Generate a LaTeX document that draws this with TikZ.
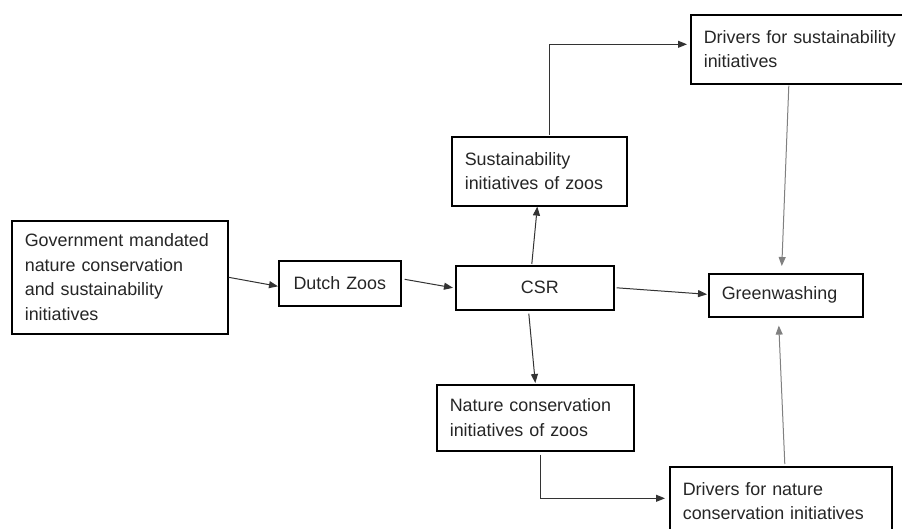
\documentclass[tikz,border=0pt]{standalone}
\usepackage{fontspec}
\setmainfont{Liberation Sans}
\usetikzlibrary{arrows.meta,calc}
\definecolor{txt}{HTML}{262626}
\definecolor{lnk}{HTML}{333333}
\definecolor{glnk}{HTML}{808080}
\begin{document}
\begin{tikzpicture}[x=1pt,y=-1pt,
  box/.style={draw=black, line width=1.6pt, anchor=north west, inner xsep=13pt, inner ysep=0pt,
    align=left, font=\fontsize{17.9}{24.5}\selectfont, text=txt},
  cbox/.style={box, align=center},
  link/.style={draw=lnk, line width=1pt, -{Triangle[length=9pt,width=7pt]}},
  glink/.style={link, draw=glnk}]
\clip (0,0) rectangle (902,529);
\fill[white] (0,0) rectangle (902,529);

\node[box, minimum width=216, minimum height=113, text width=190] (gov) at (11,220)
  {Government mandated\\nature conservation\\and sustainability\\initiatives};
\node[cbox, minimum width=122, minimum height=45, text width=96] (dz) at (278,260) {Dutch Zoos};
\node[cbox, minimum width=158, minimum height=44, text width=132] (csr) at (455,265) {\hspace*{10pt}CSR};
\node[box, minimum width=154, minimum height=43, text width=128] (gw) at (708,273) {Greenwashing};
\node[box, minimum width=175, minimum height=69, text width=149] (sz) at (451,136)
  {Sustainability\\initiatives of zoos};
\node[box, minimum width=197, minimum height=66, text width=171] (nc) at (436,384)
  {Nature conservation\\initiatives of zoos};
\node[box, minimum width=222, minimum height=69, text width=196] (dn) at (669,466)
  {Drivers for nature\\conservation initiatives};
\node[box, minimum width=222, minimum height=69, text width=196] (ds) at (690,14)
  {Drivers for sustainability\\initiatives};

\draw[link] (gov.east) -- ($(dz.west)+(0,3)$);
\draw[link] ($(dz.east)+(3,-4)$) -- ($(csr.west)+(-2,0)$);
\draw[link] ($(csr.east)+(2,0)$) -- ($(gw.west)+(-1,-1)$);
\draw[link] ($(csr.north)+(-3,-1)$) -- ($(sz.south)+(-2,0)$);
\draw[link] ($(csr.south)+(-6,3)$) -- ($(nc.north)+(0,-1)$);
\draw[link] ($(sz.north)+(10,-1)$) |- ($(ds.west)+(-3,-5)$);
\draw[glink] ($(ds.south -| gw.north)+(3,1)$) -- ($(gw.north)+(-4,-7)$);
\draw[link] ($(nc.south)+(5,3)$) |- ($(dn.west)+(-4,-3)$);
\draw[glink] ($(dn.north)+(4,-2)$) -- ($(gw.south)+(-7,8)$);
\end{tikzpicture}
\end{document}
